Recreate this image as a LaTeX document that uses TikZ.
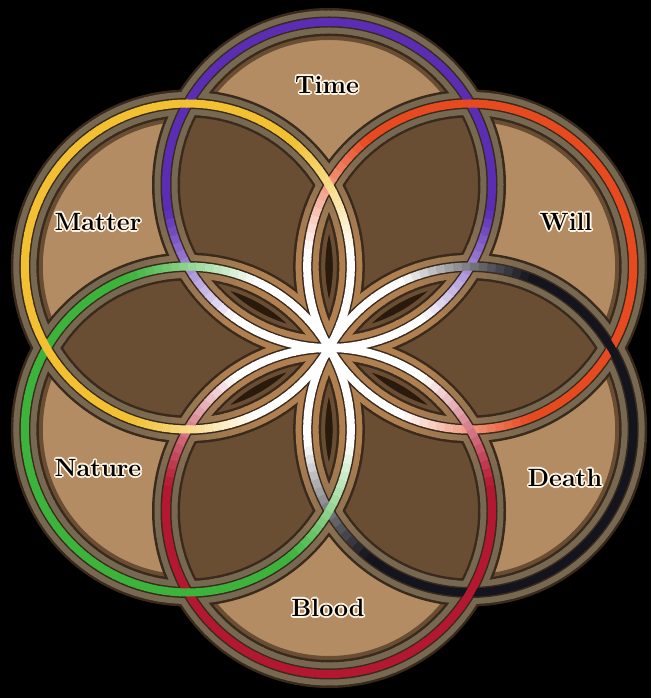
\documentclass[tikz,border=0pt]{standalone}
\usetikzlibrary{calc}
\definecolor{tanf}{HTML}{B48C64}
\definecolor{dbl}{HTML}{6A4E34}
\definecolor{tri}{HTML}{2A1A0C}
\definecolor{edgec}{HTML}{3A2A1C}
\definecolor{bandc}{HTML}{776852}
\definecolor{bandin}{HTML}{B08050}
\definecolor{cTime}{HTML}{5A2DB4}
\definecolor{cWill}{HTML}{E84A20}
\definecolor{cDeath}{HTML}{14141E}
\definecolor{cBlood}{HTML}{B41830}
\definecolor{cNature}{HTML}{3CB43C}
\definecolor{cMatter}{HTML}{F2C030}
\definecolor{haloc}{HTML}{FFF6E6}
\tikzset{
  lblfont/.style={font=\bfseries\fontsize{25}{30}\selectfont},
}
\begin{document}
\begin{tikzpicture}[x=1pt,y=1pt]
\fill[black] (0,0) rectangle (651,698);
\useasboundingbox (0,0) rectangle (651,698);
\coordinate (O) at (329,350);
\def\R{163}
\foreach \n/\ang in {T/90, W/30, D/-30, B/-90, N/-150, M/150}
  \coordinate (\n) at ($(O)+(\ang:\R)$);
% single fills
\foreach \n in {T,W,D,B,N,M} \fill[tanf] (\n) circle (\R);
% double overlaps
\foreach \a/\b in {T/W, W/D, D/B, B/N, N/M, M/T} {
  \begin{scope}
    \clip (\a) circle (\R);
    \fill[dbl] (\b) circle (\R);
  \end{scope}
}
% petals
\foreach \a/\b in {M/W, T/D, W/B, D/N, B/M, N/T} {
  \begin{scope}
    \clip (\a) circle (\R);
    \fill[tri] (\b) circle (\R);
    \draw[dbl, line width=36] (\a) circle (\R) (\b) circle (\R);
  \end{scope}
}
% rings
\foreach \n in {T,W,D,B,N,M} \draw[edgec, line width=28] (\n) circle (\R);
\foreach \n/\ang in {T/90, W/30, D/-30, B/-90, N/-150, M/150} {
  \foreach \a in {0,4,...,356} {
    \pgfmathsetmacro\t{max(0,min(100,(2*abs(cos((\a+2-\ang)/2))-0.6)/0.7*100))}
    \draw[color=bandc!\t!bandin, line width=23] ($(\n)+(\a:\R)$) arc[start angle=\a, end angle=\a+4.6, radius=\R];
  }
}
\foreach \n in {T,W,D,B,N,M} \draw[edgec, line width=11] (\n) circle (\R);
\foreach \n/\ang/\col in {T/90/cTime, W/30/cWill, D/-30/cDeath, B/-90/cBlood, N/-150/cNature, M/150/cMatter} {
  \foreach \a in {0,3,...,357} {
    \pgfmathsetmacro\t{max(0,min(100,(2*abs(cos((\a+1.5-\ang)/2))-0.6)/0.7*100))}
    \draw[color=\col!\t!white, line width=8] ($(\n)+(\a:\R)$) arc[start angle=\a, end angle=\a+3.5, radius=\R];
  }
}
% labels
\foreach \n/\x/\y/\txt in {T/327/613/Time, W/566/476/Will, D/565/220/Death, B/328/90/Blood, N/98/230/Nature, M/98/476/Matter} {
  \foreach \k in {0,30,...,330}
    \node[lblfont, text=haloc] at ($(\x,\y)+(\k:1.6)$) {\txt};
  \node[lblfont, text=black] (lbl\n) at (\x,\y) {\txt};
}
\end{tikzpicture}
\end{document}
